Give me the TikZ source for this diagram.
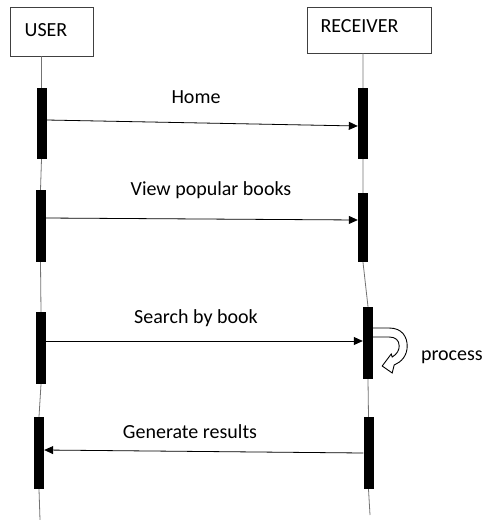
\documentclass[tikz,border=0pt]{standalone}
\usepackage{fontspec}
\setmainfont{Carlito}
\usetikzlibrary{arrows.meta}
\tikzstyle{actor} = [rectangle, draw=black!75, line width=0.9pt, inner sep=0pt]
\tikzstyle{bar} = [rectangle, fill=black, inner sep=0pt, minimum width=10pt, minimum height=72pt]
\tikzstyle{life} = [draw=black!55, line width=0.8pt]
\tikzstyle{msg} = [line width=0.8pt, -{Triangle[length=9pt,width=8pt]}]
\tikzstyle{txt} = [font=\fontsize{20}{24}\selectfont, inner sep=0pt]

\begin{document}
\begin{tikzpicture}[x=1pt, y=-1pt]
\useasboundingbox (0,0) rectangle (485,520);
\node (user) [actor, minimum width=83pt, minimum height=49pt, label={[txt, xshift=-5.5pt, yshift=1.5pt]center:USER}] at (51.5,31.5) {};
\node (recv) [actor, minimum width=124pt, minimum height=46pt, label={[txt, xshift=-9.5pt, yshift=3.5pt]center:RECEIVER}] at (369,30) {};

\node (u1) [bar, minimum height=71pt] at (41.5,123.5) {};
\node (u2) [bar] at (40.5,226) {};
\node (u3) [bar] at (41,348) {};
\node (u4) [bar] at (39,453) {};
\node (r1) [bar, minimum height=71pt] at (363,123.5) {};
\node (r2) [bar, minimum height=69pt] at (363,227.5) {};
\node (r3) [bar] at (368,343) {};
\node (r4) [bar] at (368.5,453) {};
\coordinate (uend) at (40,520);
\coordinate (rend) at (370,515);

\draw [life] (u1 |- user.south) -- (u1.north) (u1.south) -- (u2.north) (u2.south) -- (u3.north) (u3.south) -- (u4.north) (u4.south) -- (uend);
\draw [life] (r1 |- recv.south) -- (r1.north) (r1.south) -- (r2.north) (r2.south) -- (r3.north) (r3.south) -- (r4.north) (r4.south) -- (rend);

\draw [msg] ([yshift=3.5pt]u1.east) -- ([yshift=-2.5pt]r1.west);
\draw [msg] ([yshift=8pt]u2.east) -- ([yshift=7.5pt]r2.west);
\draw [msg] ([yshift=7pt]u3.east) -- ([yshift=2pt]r3.west);
\draw [msg] (r4.west) -- ([yshift=3pt]u4.east);

\node (home) [txt] at (196,97) {Home};
\node (popular) [txt] at (211,190) {View popular books};
\node (search) [txt] at (196,318) {Search by book};
\node (results) [txt] at (190,432) {Generate results};

\draw [line width=0.9pt, fill=white, shift={(r3.east)}] (0,-15) -- (16,-15) .. controls (29,-15) and (34,-6) .. (34,3) .. controls (34,13) and (28,19) .. (21,22) -- (19,30) -- (9,23) -- (18,11) -- (19,14) .. controls (24,11) and (26,7) .. (26,3) .. controls (26,-3) and (22,-6) .. (16,-6) -- (0,-6);
\node (proc) [txt, anchor=east] at (483,357) {process};
\end{tikzpicture}
\end{document}
